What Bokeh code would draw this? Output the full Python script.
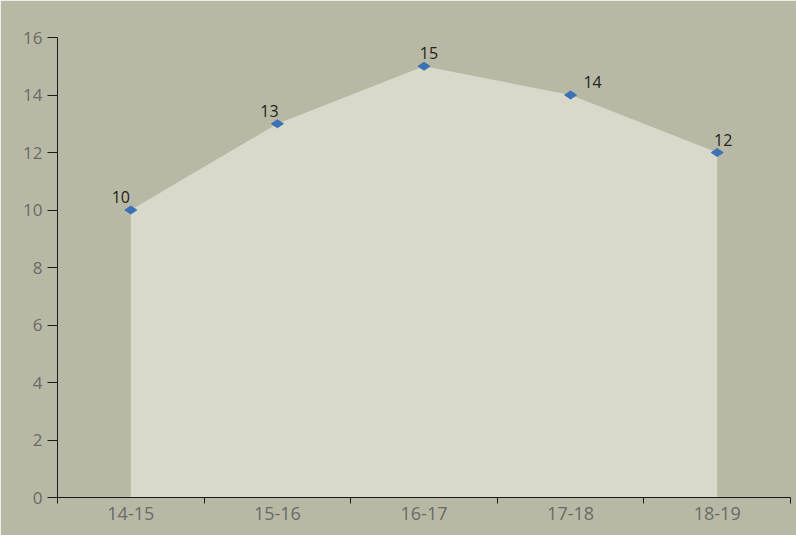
import math
from bokeh.plotting import figure
from bokeh.models import ColumnDataSource, FixedTicker, Range1d
from bokeh.core.properties import value
from bokeh.embed import file_html
from bokeh.resources import INLINE

categories = ["14-15", "15-16", "16-17", "17-18", "18-19"]
values = [10, 13, 15, 14, 12]
y_ticks = [0, 2, 4, 6, 8, 10, 12, 14, 16]

xs = list(range(len(categories)))
label_dx = [-10, -8, 5, 22, 6]

src = ColumnDataSource(dict(x=xs, y=values, lbl=[str(v) for v in values], dx=label_dx))

BG = "#b8b9a4"
FILL = "#d8d9cb"
FONT = "Open Sans"

p = figure(width=796, height=535, output_backend="svg", toolbar_location=None,
           x_range=Range1d(-0.5, len(categories) - 0.5), y_range=Range1d(0, 16),
           min_border_left=57, min_border_right=6, min_border_top=37, min_border_bottom=38)
p.background_fill_color = BG
p.border_fill_color = BG
p.outline_line_color = BG
p.outline_line_width = 2
p.grid.visible = False

p.varea(x="x", y1=0, y2="y", source=src, fill_color=FILL)
p.scatter(x="x", y="y", source=src, marker="diamond", size=12, angle=math.pi / 2,
          fill_color="#3b72b4", line_color="#3b72b4")
p.text(x="x", y="y", text="lbl", source=src, x_offset="dx", y_offset=-7,
       text_align="center", text_baseline="bottom", text_font=value(FONT),
       text_font_size="16px", text_color="#222222")

xa = p.xaxis[0]
xa.ticker = FixedTicker(ticks=xs, minor_ticks=[i - 0.5 for i in range(len(categories) + 1)])
xa.major_label_overrides = {i: c for i, c in enumerate(categories)}
xa.major_tick_out = 0
xa.major_tick_in = 0
xa.minor_tick_out = 6
xa.minor_tick_in = 0
xa.minor_tick_line_color = "#1a1a1a"
xa.axis_line_color = "#1a1a1a"
xa.major_label_standoff = 3
xa.major_label_text_font = FONT
xa.major_label_text_font_size = "18px"
xa.major_label_text_color = "#6a6a6a"

ya = p.yaxis[0]
ya.ticker = FixedTicker(ticks=y_ticks)
ya.major_tick_out = 10
ya.major_tick_in = 0
ya.minor_tick_out = 0
ya.minor_tick_in = 0
ya.major_tick_line_color = "#1a1a1a"
ya.axis_line_color = "#1a1a1a"
ya.major_label_standoff = 5
ya.major_label_text_font = FONT
ya.major_label_text_font_size = "17px"
ya.major_label_text_color = "#6a6a6a"

open("out.html", "w").write(file_html(p, INLINE))
